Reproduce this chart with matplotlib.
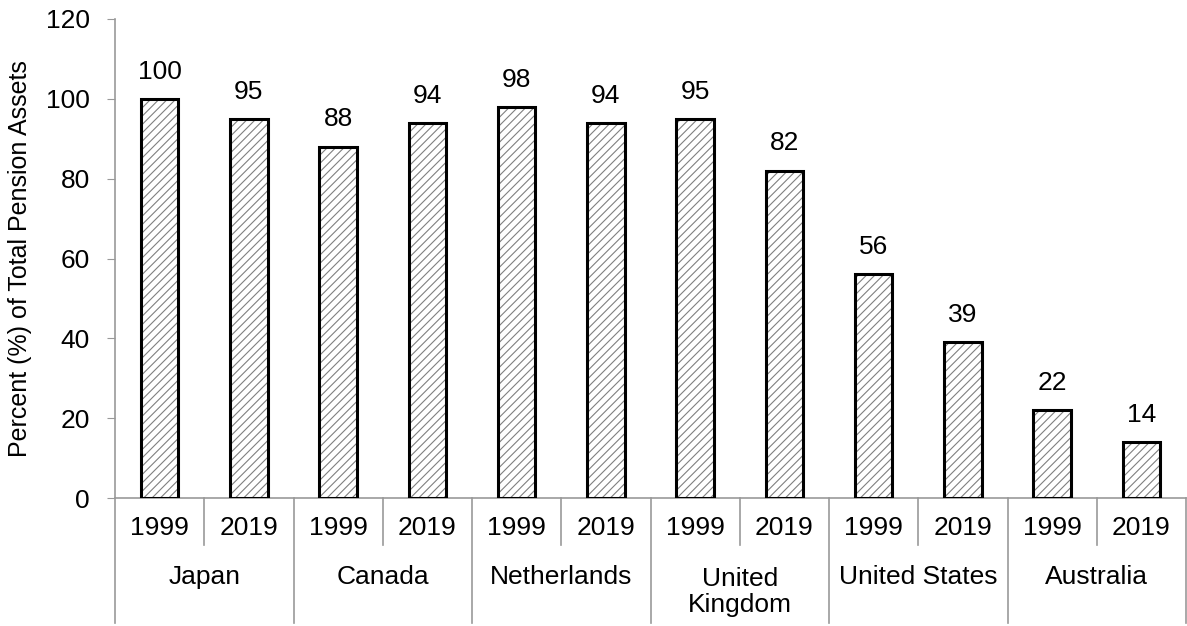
import matplotlib.pyplot as plt
from matplotlib.transforms import blended_transform_factory

plt.rcParams['font.family'] = ['Liberation Sans', 'DejaVu Sans']
plt.rcParams['hatch.linewidth'] = 0.8

countries = ['Japan', 'Canada', 'Netherlands', 'United\nKingdom',
             'United States', 'Australia']
years = ['1999', '2019']
share_1999 = [100, 88, 98, 95, 56, 22]
share_2019 = [95, 94, 94, 82, 39, 14]

values = []
for a, b in zip(share_1999, share_2019):
    values += [a, b]
xpos = list(range(len(values)))

fs = 19
fig = plt.figure(figsize=(11.87, 6.26), dpi=100)
ax = fig.add_axes([115 / 1187, 128 / 626, 1 - 116 / 1187, (498 - 19) / 626])

# hatched fill first, then the black outline on top
ax.bar(xpos, values, width=0.42, color='white', edgecolor='#808080',
       hatch='////', linewidth=0, zorder=2)
ax.bar(xpos, values, width=0.42, fill=False, edgecolor='black',
       linewidth=2.2, zorder=3)

for x, v in zip(xpos, values):
    ax.annotate(str(v), (x, v), xytext=(0, 11), textcoords='offset points',
                ha='center', va='bottom', fontsize=fs)

ax.set_xlim(-0.5, len(values) - 0.5)
ax.set_ylim(0, 120)
ax.set_yticks(range(0, 121, 20))
ax.tick_params(axis='y', labelsize=fs, length=6, color='#999999', pad=12)
ax.set_ylabel('Percent (%) of Total Pension Assets', fontsize=fs - 1,
              labelpad=10)

ax.set_xticks([])
for s in ['top', 'right']:
    ax.spines[s].set_visible(False)
for s in ['left', 'bottom']:
    ax.spines[s].set_color('#999999')
    ax.spines[s].set_linewidth(1.2)

# two-level category axis drawn below the plot
trans = blended_transform_factory(ax.transData, ax.transAxes)
h = 479.0  # axes height in px
year_sep = -(545 - 498) / h
country_sep = -(623 - 498) / h
for i, x in enumerate(xpos):
    ax.text(x, -(528 - 498) / h, years[i % 2], transform=trans,
            ha='center', va='center', fontsize=fs)
for k in range(len(values) + 1):
    y_end = country_sep if k % 2 == 0 else year_sep
    ax.plot([k - 0.5, k - 0.5], [0, y_end], transform=trans, color='#999999',
            lw=1.2, clip_on=False)
for j, name in enumerate(countries):
    yc = 592 if '\n' in name else 577
    ax.text(2 * j + 0.5, -(yc - 498) / h, name, transform=trans,
            ha='center', va='center', fontsize=fs, linespacing=1.15)

fig.savefig('out.png', dpi=100)
